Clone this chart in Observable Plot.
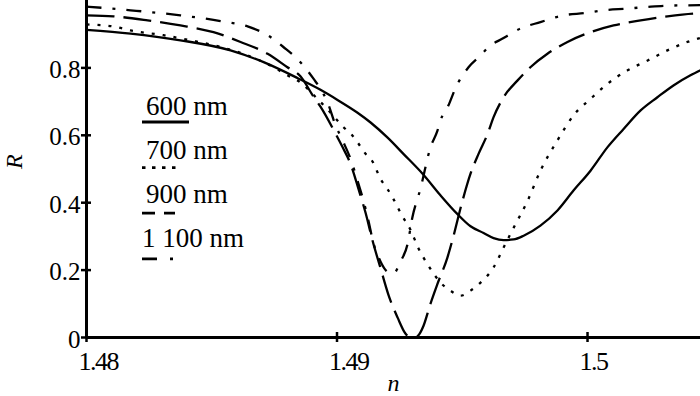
<!DOCTYPE html>
<html><head><meta charset="utf-8">
<script src="https://cdn.jsdelivr.net/npm/d3@7"></script>
<script src="https://cdn.jsdelivr.net/npm/@observablehq/plot@0.6"></script>
<style>
html,body{margin:0;padding:0;background:#fff;}
#chart svg{display:block;}
</style></head><body><div id="chart"></div>
<script>
// ---- data ----
const seriesNames = ["600 nm", "700 nm", "900 nm", "1 100 nm"];

const n600 = [1.48000,1.48176,1.48375,1.48575,1.48707,1.48842,1.48934,1.49002,1.49082,1.49134,1.49202,1.49265,1.49345,1.49413,1.49481,1.49533,1.49585,1.49625,1.49665,1.49705,1.49745,1.49812,1.49880,1.49944,1.50012,1.50080,1.50144,1.50212,1.50279,1.50343,1.50411,1.50451];
const r600 = [0.913,0.902,0.882,0.852,0.817,0.770,0.735,0.705,0.667,0.638,0.593,0.545,0.483,0.422,0.366,0.330,0.310,0.295,0.289,0.291,0.302,0.332,0.377,0.436,0.495,0.565,0.619,0.674,0.713,0.748,0.778,0.793];

const n700 = [1.48000,1.48108,1.48176,1.48307,1.48415,1.48535,1.48643,1.48747,1.48802,1.48854,1.48906,1.48966,1.49026,1.49062,1.49086,1.49114,1.49142,1.49174,1.49202,1.49226,1.49257,1.49293,1.49325,1.49365,1.49413,1.49453,1.49493,1.49533,1.49573,1.49625,1.49665,1.49701,1.49761,1.49812,1.49880,1.49944,1.50012,1.50080,1.50160,1.50240,1.50319,1.50399,1.50451];
const r700 = [0.929,0.923,0.911,0.897,0.882,0.862,0.837,0.802,0.778,0.757,0.720,0.674,0.624,0.599,0.575,0.545,0.522,0.470,0.440,0.410,0.365,0.320,0.265,0.213,0.163,0.139,0.124,0.139,0.163,0.208,0.267,0.320,0.406,0.495,0.585,0.659,0.708,0.753,0.793,0.822,0.852,0.877,0.889];

const n900 = [1.48000,1.48108,1.48244,1.48375,1.48507,1.48615,1.48723,1.48802,1.48854,1.48906,1.48934,1.48994,1.49022,1.49054,1.49086,1.49114,1.49142,1.49174,1.49206,1.49242,1.49273,1.49293,1.49313,1.49333,1.49345,1.49373,1.49401,1.49441,1.49461,1.49501,1.49533,1.49565,1.49601,1.49625,1.49665,1.49721,1.49772,1.49840,1.49920,1.50012,1.50104,1.50212,1.50319,1.50423,1.50451];
const r900 = [0.956,0.953,0.941,0.926,0.906,0.877,0.842,0.802,0.775,0.715,0.685,0.605,0.565,0.515,0.440,0.370,0.287,0.205,0.125,0.059,0.012,0.000,0.000,0.015,0.034,0.100,0.159,0.238,0.290,0.406,0.486,0.545,0.604,0.654,0.713,0.763,0.802,0.842,0.877,0.906,0.926,0.941,0.953,0.961,0.962];

const n1100 = [1.48000,1.48176,1.48375,1.48535,1.48643,1.48723,1.48786,1.48854,1.48906,1.48946,1.48962,1.48994,1.49022,1.49054,1.49082,1.49106,1.49126,1.49142,1.49174,1.49202,1.49226,1.49253,1.49281,1.49301,1.49333,1.49373,1.49401,1.49413,1.49445,1.49473,1.49525,1.49573,1.49605,1.49661,1.49733,1.49812,1.49904,1.49992,1.50064,1.50160,1.50240,1.50331,1.50451];
const r1100 = [0.982,0.971,0.956,0.939,0.923,0.897,0.862,0.817,0.768,0.723,0.698,0.630,0.585,0.530,0.465,0.405,0.345,0.290,0.225,0.195,0.190,0.225,0.275,0.357,0.441,0.564,0.614,0.644,0.689,0.740,0.802,0.837,0.862,0.887,0.917,0.936,0.956,0.963,0.971,0.976,0.981,0.985,0.986];

const xTicks = [1.48, 1.49, 1.5];
const xTickLabels = ["1.48", "1.49", "1.5"];
const yTicks = [0, 0.2, 0.4, 0.6, 0.8];
const yTickLabels = ["0", "0.2", "0.4", "0.6", "0.8"];
const xLabel = "n";
const yLabel = "R";

// ---- build ----
const seriesN = [n600, n700, n900, n1100];
const seriesR = [r600, r700, r900, r1100];
const rows = [];
seriesNames.forEach((name, s) => seriesN[s].forEach((n, i) => rows.push({series: name, n, R: seriesR[s][i]})));

const curveDash = [null, "3,8", "28,9", "15,11,3,11"];
const legendDash = [null, "3.5,6.5", "13,9", "15,13,3,40"];
const legendEnd = [189, 179, 175, 174];

const xFmt = new Map(xTicks.map((t, i) => [t, xTickLabels[i]]));
const yFmt = new Map(yTicks.map((t, i) => [t, yTickLabels[i]]));
const font = "Liberation Serif";

const plot = Plot.plot({
  width: 700, height: 396,
  marginLeft: 86, marginRight: 0, marginTop: 0, marginBottom: 59,
  style: {fontSize: "24px", color: "#000", background: "#fff", overflow: "visible"},
  x: {domain: [1.48, 1.50451]},
  y: {domain: [0, 1]},
  marks: [
    ...seriesNames.map((name, i) => Plot.line(rows.filter(d => d.series === name), {
      x: "n", y: "R", curve: "monotone-x", stroke: "#000", strokeWidth: 2.3,
      strokeDasharray: curveDash[i] || undefined, strokeLinecap: "butt"
    })),
    Plot.ruleX([1.48], {strokeWidth: 3}),
    Plot.ruleY([0], {strokeWidth: 3}),
    Plot.axisY(yTicks, {tickSize: 10, dx: 5, fill: "none", strokeWidth: 2.5, label: null}),
    Plot.axisY(yTicks, {tickFormat: d => yFmt.get(d), stroke: "none", tickSize: 0, tickPadding: 6, fontSize: 25, dy: 2, label: null}),
    Plot.axisX(xTicks, {tickSize: 10, dy: -5, fill: "none", strokeWidth: 2.5, label: null}),
    Plot.axisX(xTicks, {tickFormat: d => xFmt.get(d), stroke: "none", tickSize: 0, tickPadding: 14, fontSize: 26, textAnchor: "start", dx: -8, label: null}),
    Plot.text([yLabel], {frameAnchor: "left", dx: -72, rotate: -90, fontStyle: "italic", fontSize: 24}),
    Plot.text([xLabel], {frameAnchor: "bottom", dy: 53, fontStyle: "italic", fontSize: 24})
  ]
});

// legend inside plot area
const lg = d3.select(plot).append("g").attr("font-size", 27)
  .attr("fill", "#000").attr("text-anchor", "start");
seriesNames.forEach((name, i) => {
  lg.append("text").attr("x", i === 3 ? 142 : 146).attr("y", 115 + i * 44).text(name);
  const ln = lg.append("line").attr("x1", 142).attr("x2", legendEnd[i])
    .attr("y1", 122 + i * 45.6).attr("y2", 122 + i * 45.6)
    .attr("stroke", "#000").attr("stroke-width", 2.8);
  if (legendDash[i]) ln.attr("stroke-dasharray", legendDash[i]);
});

// serif font on every text
d3.select(plot).style("font-family", font);
d3.select(plot).selectAll("text").style("font-family", font);
d3.select(plot).selectAll('g[aria-label="x-axis tick label"] text').style("letter-spacing", "-1.5px");

document.getElementById("chart").appendChild(plot);
</script></body></html>
